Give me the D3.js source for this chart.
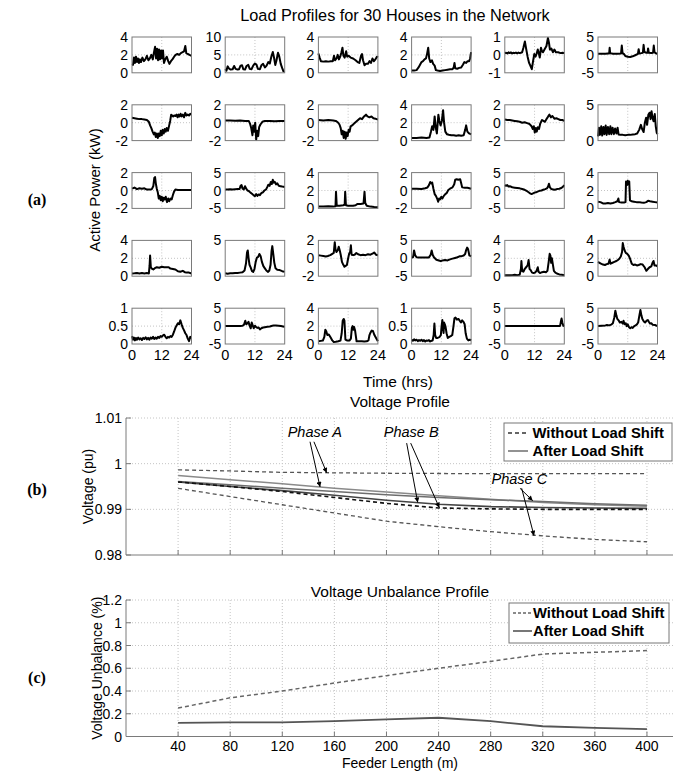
<!DOCTYPE html>
<html><head><meta charset="utf-8">
<script src="https://cdn.jsdelivr.net/npm/d3@7"></script>
<style>
body{margin:0;background:#fff;}
text{font-family:"Liberation Sans",Arial,Helvetica,sans-serif;fill:#000;}
</style></head><body>
<svg id="chart" width="688" height="771"></svg>
<script>
// ---- Household active-power profiles, [hour, kW] ----
const house01 = [[0,0.85],[0.4,0.9],[0.8,1.7],[1.2,1.1],[1.6,1.8],[2.0,1.2],[2.4,1.6],[2.8,1.1],[3.2,1.5],[3.6,1.2],[4.2,1.7],[4.8,1.3],[5.4,1.5],[6.0,1.9],[6.6,1.4],[7.2,1.6],[7.8,2.0],[8.4,1.5],[8.8,2.2],[9.3,2.9],[9.7,1.6],[10.1,2.7],[10.5,1.4],[10.9,2.6],[11.3,1.5],[11.7,2.5],[12.1,1.6],[12.5,2.5],[12.9,1.1],[13.4,1.5],[14.0,1.8],[14.6,1.3],[15.1,1.0],[15.7,1.3],[16.3,1.5],[17.0,1.8],[17.6,2.0],[18.3,2.1],[19.0,2.0],[19.7,2.2],[20.4,2.3],[21.0,2.4],[21.5,3.0],[21.9,2.2],[22.5,2.1],[23.2,2.0],[24,1.9]];
const house02 = [[0,1.0],[0.5,0.6],[1.0,1.8],[1.5,1.2],[2.2,0.9],[3.0,1.0],[3.6,1.9],[4.2,1.1],[5.0,0.9],[5.6,1.0],[6.2,2.0],[6.8,2.1],[7.3,1.0],[8.0,0.9],[8.6,1.9],[9.3,2.2],[9.9,1.1],[10.6,1.0],[11.3,2.0],[12.0,2.6],[12.6,2.3],[13.2,1.1],[14.0,1.0],[14.6,2.1],[15.3,2.5],[16.0,1.5],[16.7,2.0],[17.4,3.0],[18.0,2.6],[18.6,4.5],[19.2,5.8],[19.7,4.2],[20.2,2.2],[20.7,3.5],[21.3,5.6],[21.8,4.6],[22.4,2.5],[23.0,1.3],[23.5,0.4],[24,0.3]];
const house03 = [[0,2.15],[0.5,1.7],[1.0,1.3],[2,1.25],[3,1.3],[4,1.25],[5,1.3],[5.8,1.3],[6.3,1.9],[6.7,1.4],[7.3,1.6],[7.8,2.0],[8.3,1.5],[8.8,1.8],[9.3,2.3],[9.7,2.8],[10.1,1.9],[10.6,1.7],[11.2,2.4],[11.6,1.8],[12.2,1.9],[13.0,1.7],[14.0,1.6],[15.0,1.4],[15.8,1.2],[16.5,1.1],[17.2,1.9],[17.6,2.1],[18.0,1.4],[18.6,0.85],[19.2,1.0],[20.0,1.0],[20.6,1.3],[21.2,1.1],[21.8,1.6],[22.4,1.3],[23.0,1.5],[23.6,1.8],[24,1.7]];
const house04 = [[0,0.25],[1,0.25],[2,0.3],[2.8,0.6],[3.4,0.9],[4.0,1.2],[4.6,1.3],[5.2,1.5],[5.8,1.6],[6.3,2.2],[6.7,2.8],[7.1,1.6],[7.6,1.2],[8.2,1.4],[8.7,1.0],[9.3,0.8],[9.8,0.3],[10.5,0.25],[11.5,0.2],[12.5,0.25],[13.5,0.3],[14.5,0.35],[15.5,0.4],[16.5,0.4],[17.0,0.6],[17.3,1.1],[17.6,0.5],[18.4,0.45],[19.2,0.55],[20.0,0.6],[20.7,0.9],[21.3,1.2],[22.0,1.1],[22.6,1.3],[23.2,1.3],[23.6,1.6],[24,2.3]];
const house05 = [[0,0.1],[0.5,0.12],[1,0.08],[1.5,0.14],[2,0.1],[2.5,0.14],[3,0.08],[3.5,0.12],[4,0.1],[4.5,0.13],[5,0.09],[5.5,0.13],[6,0.1],[6.5,0.12],[7,0.15],[7.5,0.4],[8.1,0.75],[8.6,0.35],[9.2,-0.1],[9.8,-0.45],[10.3,-0.6],[10.9,-0.8],[11.4,-0.35],[11.9,0.05],[12.4,-0.1],[12.8,0.05],[13.3,0.3],[13.7,0.1],[14.1,-0.15],[14.6,0.4],[15.0,0.2],[15.4,0.15],[16.0,0.3],[16.8,0.5],[17.4,0.95],[17.8,0.7],[18.2,0.3],[18.8,0.35],[19.4,0.15],[20.0,0.3],[20.6,0.15],[21.5,0.15],[22.5,0.1],[23.3,0.12],[24,0.1]];
const house06 = [[0,0.3],[1,0.3],[2,0.35],[3,0.3],[4,0.4],[4.5,0.4],[4.7,2.0],[4.9,0.5],[6,0.3],[7,0.3],[8,0.3],[9.3,0.4],[9.6,2.6],[9.9,0.5],[10.5,0.2],[11,-0.3],[12,-0.5],[13,-0.6],[14,-0.4],[15,-0.1],[16.1,0.3],[16.4,1.6],[16.7,0.4],[17.5,0.5],[18.1,0.6],[18.4,2.8],[18.7,0.8],[19.5,0.6],[20.0,0.6],[20.2,1.8],[20.5,0.6],[21.5,0.5],[22.2,0.6],[22.5,2.6],[22.8,0.7],[23.5,0.4],[24,0.3]];
const house07 = [[0,0.55],[1,0.5],[2,0.45],[3,0.4],[4,0.4],[5,0.35],[6,0.3],[6.8,0.1],[7.3,-0.3],[7.8,-0.6],[8.3,-1.0],[8.8,-1.3],[9.2,-1.1],[9.6,-1.6],[10.0,-1.2],[10.4,-1.7],[10.8,-1.2],[11.2,-1.5],[11.6,-0.9],[12.0,-1.4],[12.4,-0.8],[12.8,-1.2],[13.2,-0.7],[13.6,-1.0],[14.0,-0.6],[14.5,-0.9],[15.0,-0.3],[15.4,0.2],[15.8,0.9],[16.2,0.8],[16.6,0.7],[17.0,0.8],[17.5,0.75],[18,0.9],[18.4,0.6],[18.8,0.9],[19.2,0.7],[19.6,1.0],[20,0.7],[20.5,0.9],[21,0.6],[21.5,1.1],[22,0.8],[22.5,0.9],[23,0.8],[23.5,1.0],[24,0.9]];
const house08 = [[0,0.25],[2,0.25],[4,0.22],[6,0.25],[8,0.2],[9.5,0.2],[10.0,-0.1],[10.5,-0.6],[11.0,-1.4],[11.3,-0.3],[11.7,-1.0],[12.1,0.0],[12.5,-1.9],[12.9,-0.9],[13.3,-1.5],[13.7,-0.5],[14.2,-0.2],[15,0.1],[16,0.2],[18,0.2],[20,0.15],[22,0.2],[24,0.2]];
const house09 = [[0,0.3],[2,0.25],[4,0.3],[6,0.25],[7,0.2],[7.8,0.05],[8.5,-0.2],[9.0,-0.6],[9.4,-1.3],[9.8,-0.9],[10.2,-1.7],[10.6,-1.0],[11.0,-1.8],[11.4,-1.1],[11.8,-1.5],[12.2,-0.8],[12.6,-1.0],[13.0,-0.4],[13.6,-0.3],[14.4,-0.1],[15.2,0.1],[16.0,0.3],[16.8,0.5],[17.6,0.4],[18.4,0.7],[19.2,0.9],[19.8,0.7],[20.6,0.6],[21.4,0.7],[22.2,0.5],[23,0.45],[24,0.35]];
const house10 = [[0,0.3],[2,0.3],[4,0.35],[6,0.3],[7.2,0.35],[7.8,1.0],[8.3,1.6],[8.8,1.2],[9.3,2.7],[9.7,1.5],[10.2,0.8],[10.8,2.9],[11.2,2.2],[11.7,1.7],[12.2,2.2],[12.7,3.4],[13.1,2.0],[13.6,1.0],[14.3,0.7],[15,0.65],[16,0.6],[17,0.6],[18,0.55],[19,0.6],[20,0.55],[21,0.6],[21.6,1.2],[22.0,1.7],[22.5,1.0],[23.2,0.8],[24,0.7]];
const house11 = [[0,0.35],[1,0.3],[2,0.3],[3,0.25],[4,0.2],[5,0.15],[6,0.1],[7,0.0],[8,0.05],[9,-0.05],[10,-0.15],[10.8,-0.4],[11.3,-0.7],[11.7,-0.4],[12.1,-1.1],[12.5,-0.6],[12.9,-1.0],[13.3,-0.5],[13.8,-0.7],[14.3,-0.1],[15.0,0.3],[15.6,0.2],[16.2,0.1],[16.8,0.4],[17.5,0.7],[18.0,0.9],[18.6,0.6],[19.2,0.75],[20.0,0.45],[20.8,0.5],[21.6,0.4],[22.4,0.3],[23.2,0.3],[24,0.2]];
const house12 = [[0,0.6],[0.4,1.8],[0.8,0.8],[1.3,2.0],[1.7,0.7],[2.2,1.9],[2.6,0.9],[3.1,2.1],[3.5,0.8],[4.0,1.9],[4.5,0.9],[5.0,2.0],[5.4,0.9],[5.9,1.8],[6.4,0.9],[6.9,1.7],[7.4,1.0],[7.9,1.8],[8.3,0.85],[9,0.8],[10,0.8],[11,0.75],[12,0.8],[13,0.8],[14,0.85],[15,0.9],[15.8,1.0],[16.6,1.5],[17.3,2.2],[17.8,1.6],[18.4,1.2],[18.9,2.5],[19.4,3.2],[19.8,2.2],[20.3,3.6],[20.8,3.9],[21.2,3.0],[21.6,4.1],[22.0,3.2],[22.4,2.7],[22.9,3.7],[23.3,2.0],[23.7,1.1],[24,0.9]];
const house13 = [[0,0.2],[1,0.33],[2,0.15],[3,0.25],[4,0.2],[5,0.25],[6,0.1],[7,0.1],[8,0.15],[8.6,0.5],[9.0,1.4],[9.3,1.5],[9.6,0.8],[10.0,0.2],[10.4,-0.2],[10.8,-0.9],[11.2,-0.6],[11.6,-1.1],[12.0,-0.7],[12.4,-1.2],[12.8,-0.8],[13.2,-1.0],[13.6,-0.7],[14.1,-1.3],[14.6,-0.9],[15.0,-1.2],[15.5,-0.9],[16.0,-1.0],[16.5,-0.5],[17.0,-0.1],[17.5,0.1],[18.5,0.05],[20,0.05],[22,0.05],[24,0.05]];
const house14 = [[0,0.3],[1,0.3],[2,0.35],[3,0.3],[4,0.35],[5,0.4],[5.8,0.4],[6.2,1.3],[6.6,1.5],[7.0,0.5],[7.5,0.3],[8.0,1.2],[8.4,0.6],[9.0,0.0],[9.6,-0.2],[10.2,-0.6],[10.8,-0.9],[11.4,-1.3],[12.0,-1.6],[12.5,-1.0],[13.0,-1.5],[13.5,-1.1],[14.0,-1.3],[14.6,-0.7],[15.2,-0.5],[15.8,0.0],[16.5,0.3],[17.0,1.0],[17.4,1.6],[17.9,1.3],[18.4,2.4],[18.8,1.8],[19.2,3.0],[19.6,2.2],[20.0,2.4],[20.5,1.7],[21.0,2.0],[21.6,1.3],[22.3,1.2],[23.0,1.1],[24,1.0]];
const house15 = [[0,0.2],[2,0.2],[4,0.25],[6,0.2],[6.9,0.25],[7.1,1.85],[7.4,0.3],[8.5,0.3],[10.0,0.35],[10.6,0.4],[10.8,1.85],[11.1,0.35],[12,0.3],[13,0.3],[14,0.3],[15,0.35],[15.8,0.5],[17,0.5],[18.2,0.55],[18.6,1.85],[18.9,0.6],[19.5,0.3],[21,0.2],[22.5,0.15],[24,0.12]];
const house16 = [[0,0.2],[2,0.2],[4,0.18],[5.5,0.25],[6.4,0.33],[7.0,0.6],[7.5,0.95],[7.9,0.8],[8.3,0.9],[8.8,0.2],[9.3,-0.4],[9.8,-0.6],[10.3,-0.9],[10.7,-1.25],[11.1,-0.9],[11.5,-1.0],[12.0,-0.7],[12.4,-0.9],[13.0,-0.6],[13.6,-0.4],[14.1,-0.3],[14.8,0.05],[15.5,0.2],[16.5,0.35],[17.2,0.7],[17.6,1.2],[18.2,1.25],[18.8,1.2],[19.6,1.25],[20.0,0.8],[20.4,0.35],[21.5,0.3],[22.5,0.3],[23.3,0.25],[24,0.2]];
const house17 = [[0,1.5],[0.5,1.3],[1,1.5],[1.5,1.1],[2,1.2],[3,0.9],[4,0.8],[5,0.7],[6,0.6],[7,0.4],[8,0.2],[9,-0.2],[9.6,-0.5],[10.2,-0.8],[10.8,-1.0],[11.4,-0.8],[12,-0.6],[12.6,-0.5],[13.2,-0.3],[14,-0.1],[14.8,0.0],[15.5,0.2],[16.3,0.4],[17.0,0.6],[17.4,1.0],[17.8,1.9],[18.2,0.9],[18.8,0.4],[19.5,0.3],[20.2,0.2],[21,0.4],[22,0.5],[22.8,0.7],[23.4,1.0],[24,1.5]];
const house18 = [[0,0.75],[1,0.7],[2,0.55],[3,0.55],[4,0.6],[5,0.55],[6,0.6],[7,0.7],[7.8,0.8],[8.2,1.1],[8.5,0.7],[9.5,0.65],[10.5,0.65],[11.1,0.7],[11.3,3.0],[11.7,2.6],[12.0,3.1],[12.3,2.7],[12.6,3.0],[12.9,0.9],[13.5,0.8],[14.5,0.75],[15.5,0.7],[16.5,0.7],[17.5,0.65],[18.5,0.62],[19.5,0.7],[20.2,0.85],[21.0,0.8],[22.0,0.75],[23.0,0.7],[24,0.65]];
const house19 = [[0,0.3],[1,0.32],[2,0.35],[3,0.3],[4,0.35],[5,0.3],[6,0.35],[6.8,0.3],[7.1,1.2],[7.3,2.3],[7.6,1.0],[8.0,0.85],[8.6,0.75],[9.2,0.9],[10,1.0],[11,0.95],[12,1.05],[13,1.0],[14,1.0],[14.8,1.0],[15.5,0.85],[16.5,0.8],[17.5,0.75],[18.5,0.55],[19.5,0.5],[20.5,0.6],[21.3,0.45],[22.0,0.4],[23.0,0.4],[24,0.3]];
const house20 = [[0,0.4],[1,0.35],[2,0.4],[3,0.4],[4,0.45],[5,0.45],[6,0.5],[7,0.55],[7.8,0.8],[8.4,1.8],[8.8,3.3],[9.1,3.6],[9.4,2.6],[9.8,1.6],[10.3,1.2],[10.8,0.7],[11.3,0.6],[11.8,1.0],[12.3,2.0],[12.8,2.6],[13.3,2.7],[13.8,3.1],[14.3,2.8],[14.8,2.0],[15.4,1.4],[16.0,1.1],[16.6,0.8],[17.3,0.6],[17.8,0.8],[18.3,1.6],[18.7,3.5],[19.0,4.2],[19.4,3.1],[19.8,1.9],[20.3,1.1],[21,0.9],[22,0.85],[23,0.7],[24,0.6]];
const house21 = [[0,0.35],[1,0.3],[2,0.25],[3,0.2],[3.8,0.25],[4.8,0.35],[5.6,0.5],[6.2,0.6],[6.6,1.8],[6.9,1.0],[7.3,0.7],[7.8,0.9],[8.2,1.3],[8.6,0.9],[9.0,0.4],[9.5,-0.4],[10.0,-0.7],[10.5,-0.95],[11.0,-0.85],[11.5,-0.75],[12.0,0.0],[12.4,0.5],[12.8,0.7],[13.1,1.45],[13.4,0.4],[14,0.35],[14.6,0.4],[15.3,0.6],[16,0.45],[17,0.35],[18,0.4],[19,0.35],[20,0.45],[21,0.4],[22,0.55],[22.5,0.65],[23.2,0.4],[24,0.35]];
const house22 = [[0,0.2],[0.6,0.3],[1.0,2.2],[1.4,0.9],[2.0,0.3],[3,0.2],[4,0.2],[5,0.2],[6,0.2],[7,0.25],[7.7,1.0],[8.1,2.2],[8.5,1.0],[9.0,0.3],[10,-0.4],[11,-0.6],[11.8,-0.8],[12.5,-0.6],[13.5,-0.5],[14.5,-0.6],[15.5,-0.3],[16.5,-0.1],[17.5,0.1],[18.5,0.3],[19.3,0.55],[20.2,0.6],[21,0.8],[21.6,1.2],[22.0,2.3],[22.4,3.0],[22.8,2.5],[23.3,0.8],[24,0.55]];
const house23 = [[0,0.1],[1,0.12],[2,0.1],[3,0.12],[4,0.15],[5,0.12],[6,0.15],[6.5,0.8],[6.7,1.7],[7.0,0.6],[7.5,0.5],[8.0,0.8],[8.6,1.0],[9.2,1.2],[9.6,1.8],[10.0,0.8],[10.4,0.7],[11.0,0.4],[11.6,0.35],[12.2,0.4],[12.8,0.6],[13.3,1.0],[13.6,0.5],[14.2,0.35],[15,0.45],[15.8,0.5],[16.6,0.45],[17.2,0.6],[17.7,1.6],[18.1,2.5],[18.4,2.3],[18.7,1.5],[19.0,2.0],[19.4,1.3],[19.8,0.6],[20.4,0.4],[21,0.3],[22,0.2],[23,0.15],[24,0.1]];
const house24 = [[0,1.6],[0.6,1.5],[1.2,1.4],[2.0,1.3],[2.8,1.25],[3.5,1.35],[4.2,1.4],[4.7,1.85],[5.1,1.4],[5.8,1.5],[6.6,1.6],[7.4,1.7],[8.0,1.8],[8.6,1.95],[9.2,2.2],[9.7,2.7],[10.0,3.7],[10.3,3.3],[10.7,2.9],[11.2,2.6],[11.8,2.5],[12.4,2.3],[13.0,1.9],[13.6,1.4],[14.3,1.25],[15.0,1.3],[15.7,1.2],[16.4,1.25],[17.2,1.35],[18.0,1.3],[18.8,1.0],[19.5,0.6],[20.1,0.8],[20.8,1.0],[21.5,1.1],[22.0,1.5],[22.4,1.7],[22.8,1.2],[23.4,1.2],[24,1.1]];
const house25 = [[0,0.22],[0.4,0.12],[0.8,0.18],[1.2,0.1],[1.6,0.17],[2.0,0.12],[2.5,0.18],[3.0,0.13],[3.5,0.16],[4.0,0.11],[4.5,0.17],[5.0,0.14],[5.5,0.19],[6.0,0.13],[6.5,0.17],[7.0,0.12],[7.5,0.18],[8.0,0.15],[8.5,0.2],[9.0,0.14],[9.5,0.18],[10.0,0.15],[10.5,0.2],[11.0,0.17],[11.5,0.22],[12.0,0.2],[12.5,0.24],[13.0,0.26],[13.5,0.2],[14.0,0.16],[14.5,0.2],[15.0,0.18],[15.5,0.22],[16.0,0.2],[16.5,0.26],[17.0,0.35],[17.5,0.45],[18.0,0.52],[18.5,0.58],[19.0,0.55],[19.5,0.66],[20.0,0.55],[20.5,0.45],[21.0,0.38],[21.5,0.3],[22.0,0.25],[22.5,0.15],[23.0,0.08],[23.5,0.2],[24,0.17]];
const house26 = [[0,0.0],[1,0.05],[2,0.0],[3,0.05],[4,0.0],[5,0.05],[6,0.0],[7,0.1],[7.6,0.4],[8.1,1.5],[8.5,0.5],[9.0,0.8],[9.4,1.2],[9.8,0.2],[10.3,-0.6],[10.7,1.0],[11.1,0.2],[11.5,-0.6],[12.0,0.1],[12.5,-0.3],[13.0,-0.5],[13.5,-0.4],[14.0,-0.9],[14.6,-0.6],[15.3,-0.4],[16,-0.3],[17,-0.2],[18,-0.1],[19,0.1],[19.6,0.2],[20.5,0.15],[21.5,0.1],[22.5,0.0],[23.3,-0.1],[24,-0.2]];
const house27 = [[0,0.3],[1,0.35],[1.8,0.38],[2.4,0.8],[2.8,1.6],[3.2,1.4],[3.6,1.0],[4.2,1.07],[5.0,0.7],[5.6,0.4],[6.2,0.23],[7.0,0.25],[8.0,0.3],[8.9,0.38],[9.4,1.2],[9.8,2.6],[10.2,2.8],[10.5,2.6],[10.9,0.5],[11.5,0.4],[12.5,0.38],[13.1,0.6],[13.5,1.8],[13.8,2.0],[14.1,1.6],[14.4,1.9],[14.8,1.5],[15.4,0.3],[16.5,0.3],[17.5,0.3],[18.5,0.28],[19.5,0.3],[20.2,0.4],[20.6,1.0],[21.0,1.26],[21.5,1.5],[22.0,1.45],[22.6,1.0],[23.2,0.7],[24,0.3]];
const house28 = [[0,0.12],[0.5,0.09],[1,0.13],[1.5,0.1],[2,0.12],[2.5,0.08],[3,0.11],[3.5,0.09],[4,0.12],[4.5,0.08],[5,0.11],[5.5,0.07],[6,0.1],[6.5,0.09],[7,0.11],[7.5,0.07],[8,0.09],[8.5,0.1],[8.9,0.25],[9.2,0.57],[9.5,0.25],[9.9,0.17],[10.5,0.17],[11.2,0.19],[11.8,0.25],[12.1,0.5],[12.4,0.67],[12.7,0.45],[12.9,0.31],[13.1,0.6],[13.4,0.55],[13.7,0.48],[14.1,0.3],[14.6,0.17],[15.2,0.2],[15.8,0.22],[16.4,0.25],[16.9,0.5],[17.3,0.72],[17.7,0.74],[18.3,0.68],[18.9,0.7],[19.4,0.65],[19.9,0.6],[20.4,0.66],[20.9,0.62],[21.4,0.55],[21.8,0.3],[22.3,0.15],[22.9,0.1],[23.5,0.12],[24,0.1]];
const house29 = [[0,0.0],[4,0.0],[8,0.0],[12,0.0],[16,0.0],[20,0.0],[22.3,0.05],[22.6,1.2],[22.9,2.1],[23.2,1.0],[23.6,0.1],[24,0.0]];
const house30 = [[0,0.0],[1.5,0.1],[3,0.2],[3.6,0.3],[4.5,0.2],[5.3,0.4],[6.0,0.8],[6.6,2.5],[7.0,4.3],[7.4,3.0],[7.8,2.0],[8.3,1.6],[8.8,1.0],[9.4,1.2],[10.0,0.7],[10.3,1.5],[10.7,0.5],[11.2,0.8],[11.6,0.0],[12.0,0.5],[12.5,-0.3],[13.0,-0.6],[13.5,-0.3],[14.0,-0.5],[14.6,0.0],[15.2,0.2],[15.7,0.5],[16.2,1.0],[16.7,3.0],[17.1,4.5],[17.5,3.0],[17.9,2.0],[18.5,1.3],[19.0,1.0],[19.6,1.5],[20.1,1.7],[20.5,1.2],[21.0,0.7],[21.5,0.8],[22.0,0.4],[23.0,0.3],[24,0.0]];

const houseProfiles = [house01,house02,house03,house04,house05,house06,house07,house08,house09,house10,
  house11,house12,house13,house14,house15,house16,house17,house18,house19,house20,
  house21,house22,house23,house24,house25,house26,house27,house28,house29,house30];

// y-axis limits of each house panel
const houseYLimits = [[0,4],[0,10],[0,4],[0,4],[-1,1],[-5,5],
  [-2,2],[-2,2],[-2,2],[0,4],[-2,2],[0,5],
  [-2,2],[-5,5],[0,4],[-2,2],[-5,5],[0,4],
  [0,4],[0,5],[-2,2],[-5,5],[0,4],[0,4],
  [0,1],[-5,5],[0,4],[0,1],[-5,5],[-5,5]];
// y tick values for each kind of limit
const limitTicks = {"0,4":[0,2,4],"0,10":[0,5,10],"-1,1":[-1,0,1],"-5,5":[-5,0,5],"-2,2":[-2,0,2],"0,5":[0,5],"0,1":[0,0.5,1]};
const timeTicks = [0,12,24];

// ---- Feeder voltage profile (pu) ----
const feederLength = [40,80,120,160,200,240,280,320,360,400];
const phaseAWithout = [0.99865,0.9984,0.9981,0.9980,0.9979,0.99785,0.9978,0.9978,0.9978,0.9978];
const phaseBWithout = [0.9960,0.9950,0.9939,0.9926,0.9913,0.9903,0.9901,0.9900,0.9900,0.9900];
const phaseCWithout = [0.9946,0.9928,0.9910,0.9892,0.9874,0.9862,0.9851,0.9842,0.9834,0.9829];
const phaseAAfter = [0.9974,0.9965,0.9956,0.9946,0.9938,0.9930,0.9922,0.9915,0.9910,0.9907];
const phaseBAfter = [0.9960,0.9950,0.9941,0.9931,0.9920,0.9911,0.9906,0.9904,0.9903,0.9902];
const phaseCAfter = [0.9961,0.9954,0.9946,0.9939,0.9932,0.9926,0.9921,0.9917,0.9912,0.9909];
const voltageTicks = [0.98,0.99,1,1.01];

// ---- Voltage unbalance (%) ----
const unbalanceWithout = [0.25,0.34,0.40,0.47,0.535,0.60,0.66,0.725,0.74,0.755];
const unbalanceAfter = [0.12,0.125,0.125,0.135,0.15,0.165,0.135,0.09,0.075,0.065];
const unbalanceTicks = [0,0.2,0.4,0.6,0.8,1,1.2];
const feederTicks = [40,80,120,160,200,240,280,320,360,400];

// phase call-outs: label position and arrow tips, in (m, pu)
const phaseNotes = [
  {label:"Phase A", at:[145,1.0058], arrows:[[[141.3,1.0048],[149.0,0.9949]],[[144.3,1.0048],[154.1,0.9980]]]},
  {label:"Phase B", at:[219,1.0058], arrows:[[[215.5,1.0045],[224.0,0.99148]],[[218.6,1.0045],[240.6,0.99036]]]},
  {label:"Phase C", at:[302,0.99545], arrows:[[[302.5,0.99461],[312.3,0.99189]],[[303.8,0.99461],[313.3,0.98420]]]}
];

const svg = d3.select("#chart");
const gridColor = "#c4c4c4";
const axisColor = "#7a7a7a";

// ================= (a) grid of house profiles =================
const gridLeft = 132, colStep = 93.2, cellW = 59.5;
const gridTop = 37, rowStep = 67.8, cellH = 35.8;

houseProfiles.forEach((prof, i) => {
  const col = i % 6, row = Math.floor(i / 6);
  const lim = houseYLimits[i];
  const ticks = limitTicks[lim.join(",")];
  const x = d3.scaleLinear().domain([0,24]).range([0,cellW]);
  const y = d3.scaleLinear().domain(lim).range([cellH,0]);
  const g = svg.append("g").attr("transform", `translate(${gridLeft + col*colStep},${gridTop + row*rowStep})`);

  // dotted grid
  g.append("line").attr("x1", x(12)).attr("x2", x(12)).attr("y1", 0).attr("y2", cellH)
    .attr("stroke", gridColor).attr("stroke-dasharray", "1,2");
  ticks.filter(t => t !== lim[0] && t !== lim[1]).forEach(t => {
    g.append("line").attr("x1", 0).attr("x2", cellW).attr("y1", y(t)).attr("y2", y(t))
      .attr("stroke", gridColor).attr("stroke-dasharray", "1,2");
  });

  g.append("path").datum(prof)
    .attr("d", d3.line().x(d => x(d[0])).y(d => y(d[1])))
    .attr("fill", "none").attr("stroke", "#000").attr("stroke-width", 2)
    .attr("stroke-linejoin", "round");

  g.append("rect").attr("x", 0).attr("y", 0).attr("width", cellW).attr("height", cellH)
    .attr("fill", "none").attr("stroke", axisColor).attr("stroke-width", 1);

  ticks.forEach(t => {
    g.append("text").attr("x", -4).attr("y", y(t)).attr("dy", "0.36em")
      .attr("text-anchor", "end").attr("font-size", 14).text(t);
  });
  if (row === 4) {
    timeTicks.forEach(t => {
      g.append("text").attr("x", x(t)).attr("y", cellH + 16)
        .attr("text-anchor", "middle").attr("font-size", 14.5).text(t);
    });
  }
});

svg.append("text").attr("x", 395).attr("y", 21).attr("text-anchor", "middle")
  .attr("font-size", 16.3).text("Load Profiles for 30 Houses in the Network");
svg.append("text").attr("transform", "translate(95,190) rotate(-90)").attr("dy", "0.36em")
  .attr("text-anchor", "middle").attr("font-size", 15).text("Active Power (kW)");
svg.append("text").attr("x", 398).attr("y", 387).attr("text-anchor", "middle")
  .attr("font-size", 15.5).text("Time (hrs)");

// panel letters
[["(a)",199],["(b)",489],["(c)",677]].forEach(([s, yy]) => {
  svg.append("text").attr("x", 37).attr("y", yy).attr("dy", "0.35em").attr("text-anchor", "middle")
    .style("font-family", "'Liberation Serif','Times New Roman',serif")
    .attr("font-weight", "bold").attr("font-size", 16).text(s);
});

// ================= shared feeder axis =================
const fx = d3.scaleLinear().domain([0,420]).range([126,673]);

function frame(y, yTicks, fmt, showXLabels) {
  const [yBot, yTop] = y.range();
  const g = svg.append("g");
  feederTicks.forEach(t => {
    g.append("line").attr("x1", fx(t)).attr("x2", fx(t)).attr("y1", yTop).attr("y2", yBot)
      .attr("stroke", gridColor).attr("stroke-dasharray", "1,2");
  });
  yTicks.forEach(t => {
    if (t === y.domain()[0]) return;
    g.append("line").attr("x1", fx(0)).attr("x2", fx(420)).attr("y1", y(t)).attr("y2", y(t))
      .attr("stroke", gridColor).attr("stroke-dasharray", "1,2");
  });
  // axes (left and bottom only)
  g.append("line").attr("x1", fx(0)).attr("x2", fx(0)).attr("y1", yTop).attr("y2", yBot)
    .attr("stroke", axisColor);
  g.append("line").attr("x1", fx(0)).attr("x2", fx(420)).attr("y1", yBot).attr("y2", yBot)
    .attr("stroke", axisColor);
  feederTicks.forEach(t => {
    g.append("line").attr("x1", fx(t)).attr("x2", fx(t)).attr("y1", yBot).attr("y2", yBot - 5)
      .attr("stroke", axisColor);
    if (showXLabels) {
      g.append("text").attr("x", fx(t)).attr("y", yBot + 14).attr("text-anchor", "middle")
        .attr("font-size", 14).text(t);
    }
  });
  yTicks.forEach(t => {
    g.append("line").attr("x1", fx(0)).attr("x2", fx(0) + 5).attr("y1", y(t)).attr("y2", y(t))
      .attr("stroke", axisColor);
    g.append("text").attr("x", fx(0) - 4).attr("y", y(t)).attr("dy", "0.36em")
      .attr("text-anchor", "end").attr("font-size", 14).text(fmt(t));
  });
}

function legend(x0, y0, w, h, lineLen, textX, rows) {
  const g = svg.append("g");
  g.append("rect").attr("x", x0).attr("y", y0).attr("width", w).attr("height", h)
    .attr("fill", "#fff").attr("stroke", "#777");
  rows.forEach((r, k) => {
    const yy = y0 + 10 + k * 18;
    g.append("line").attr("x1", x0 + 4).attr("x2", x0 + 4 + lineLen).attr("y1", yy).attr("y2", yy)
      .attr("stroke", r.color).attr("stroke-width", r.width).attr("stroke-dasharray", r.dash);
    g.append("text").attr("x", x0 + textX).attr("y", yy).attr("dy", "0.36em")
      .attr("font-size", 14.8).attr("font-weight", "bold").text(r.label);
  });
}

// ================= (b) voltage profile =================
const vy = d3.scaleLinear().domain([0.98,1.01]).range([555,418]);
frame(vy, voltageTicks, d => String(d), false);

const vLine = d3.line().x(d => fx(d[0])).y(d => vy(d[1]));
const withoutStyle = {color:"#333", width:1.3, dash:"4,3"};
const afterStyle = {color:"#6e6e6e", width:1.5, dash:null};
[
  [phaseAAfter, {color:"#8a8a8a", width:1.5, dash:null}],
  [phaseCAfter, afterStyle],
  [phaseBAfter, {color:"#444", width:1.6, dash:null}],
  [phaseAWithout, {color:"#555", width:1.3, dash:"4,3"}],
  [phaseBWithout, {color:"#111", width:1.6, dash:"4,3"}],
  [phaseCWithout, {color:"#555", width:1.3, dash:"4,3"}]
].forEach(([vals, st]) => {
  svg.append("path").datum(feederLength.map((f, k) => [f, vals[k]]))
    .attr("d", vLine).attr("fill", "none").attr("stroke", st.color)
    .attr("stroke-width", st.width).attr("stroke-dasharray", st.dash);
});

svg.append("defs").append("marker").attr("id", "head")
  .attr("viewBox", "0 0 10 10").attr("refX", 10).attr("refY", 5)
  .attr("markerWidth", 7).attr("markerHeight", 5).attr("markerUnits", "userSpaceOnUse")
  .attr("orient", "auto").append("path").attr("d", "M0,0L10,5L0,10z").attr("fill", "#000");

phaseNotes.forEach(n => {
  svg.append("text").attr("x", fx(n.at[0])).attr("y", vy(n.at[1])).attr("text-anchor", "middle")
    .attr("font-size", 14.5).attr("font-style", "italic").text(n.label);
  n.arrows.forEach(([a, b]) => {
    svg.append("line").attr("x1", fx(a[0])).attr("y1", vy(a[1])).attr("x2", fx(b[0])).attr("y2", vy(b[1]))
      .attr("stroke", "#000").attr("stroke-width", 1).attr("marker-end", "url(#head)");
  });
});

legend(504, 423, 168, 38, 20, 28.5, [
  {label:"Without Load Shift", ...withoutStyle},
  {label:"After Load Shift", ...afterStyle}
]);

svg.append("text").attr("x", 400).attr("y", 407).attr("text-anchor", "middle")
  .attr("font-size", 15.5).text("Voltage Profile");
svg.append("text").attr("transform", `translate(88,${(418+555)/2}) rotate(-90)`).attr("dy", "0.36em")
  .attr("text-anchor", "middle").attr("font-size", 14).text("Voltage (pu)");

// ================= (c) voltage unbalance =================
const uy = d3.scaleLinear().domain([0,1.2]).range([736.5,600]);
frame(uy, unbalanceTicks, d => String(d), true);

const uLine = d3.line().x(d => fx(d[0])).y(d => uy(d[1]));
svg.append("path").datum(feederLength.map((f, k) => [f, unbalanceWithout[k]]))
  .attr("d", uLine).attr("fill", "none").attr("stroke", "#666")
  .attr("stroke-width", 1.5).attr("stroke-dasharray", "4,3");
svg.append("path").datum(feederLength.map((f, k) => [f, unbalanceAfter[k]]))
  .attr("d", uLine).attr("fill", "none").attr("stroke", "#555").attr("stroke-width", 1.8);

legend(509, 603, 160, 40, 19, 24, [
  {label:"Without Load Shift", color:"#666", width:1.3, dash:"3,2"},
  {label:"After Load Shift", color:"#555", width:1.6, dash:null}
]);

svg.append("text").attr("x", 400).attr("y", 597).attr("text-anchor", "middle")
  .attr("font-size", 15.5).text("Voltage Unbalance Profile");
svg.append("text").attr("transform", `translate(97,${(600+736.5)/2}) rotate(-90)`).attr("dy", "0.36em")
  .attr("text-anchor", "middle").attr("font-size", 14).text("Voltage Unbalance (%)");
svg.append("text").attr("x", 400).attr("y", 767.5).attr("text-anchor", "middle")
  .attr("font-size", 14).text("Feeder Length (m)");
</script></body></html>
